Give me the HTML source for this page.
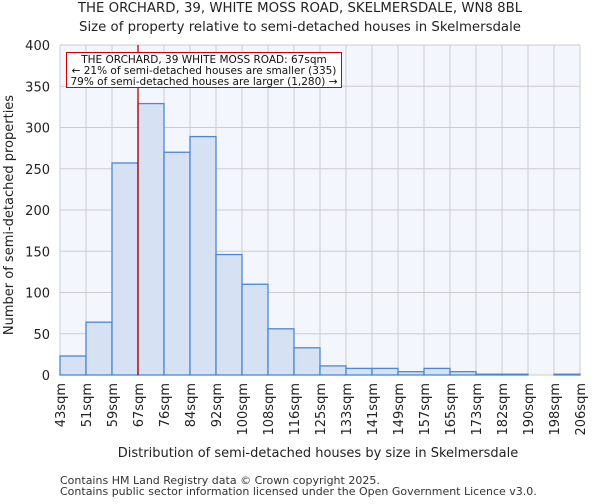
<!DOCTYPE html>
<html><head><meta charset="utf-8"><style>
body{margin:0;background:#fff;font-family:"DejaVu Sans","Liberation Sans",sans-serif}
</style></head><body>
<svg width="600" height="500" xmlns="http://www.w3.org/2000/svg" font-family="DejaVu Sans, Liberation Sans, sans-serif">
<text x="300" y="12" text-anchor="middle" font-size="13.3" fill="#222">THE ORCHARD, 39, WHITE MOSS ROAD, SKELMERSDALE, WN8 8BL</text>
<text x="300" y="31" text-anchor="middle" font-size="13.3" fill="#222">Size of property relative to semi-detached houses in Skelmersdale</text>
<rect x="60" y="45" width="520" height="330" fill="#f3f6fd"/>
<g id="grid"></g><g id="bars"></g><g id="axes"></g>
<text transform="translate(13,215) rotate(-90)" text-anchor="middle" font-size="13" fill="#222">Number of semi-detached properties</text>
<text x="318" y="457" text-anchor="middle" font-size="13" fill="#222">Distribution of semi-detached houses by size in Skelmersdale</text>
<text x="60" y="484" font-size="11" fill="#333">Contains HM Land Registry data © Crown copyright 2025.</text>
<text x="60" y="495" font-size="11" fill="#333">Contains public sector information licensed under the Open Government Licence v3.0.</text>
<g id="annot"></g>
</svg>
<script>
const categories=["43sqm","51sqm","59sqm","67sqm","76sqm","84sqm","92sqm","100sqm","108sqm","116sqm","125sqm","133sqm","141sqm","149sqm","157sqm","165sqm","173sqm","182sqm","190sqm","198sqm","206sqm"];
const counts=[23,64,257,329,270,289,146,110,56,33,11,8,8,4,8,4,1,1,0,1];
const yTicks=[0,50,100,150,200,250,300,350,400];
const markerBin=3;
const NS="http://www.w3.org/2000/svg";
const X0=60,X1=580,Y0=375,Y1=45,YMAX=400;
const bw=(X1-X0)/counts.length;
const xs=i=>X0+i*bw, ys=v=>Y0-v/YMAX*(Y0-Y1);
function mk(tag,attrs,parent){const e=document.createElementNS(NS,tag);for(const k in attrs)e.setAttribute(k,attrs[k]);document.getElementById(parent).appendChild(e);return e;}
yTicks.forEach(t=>{
 const l=mk('line',{x1:X0,x2:X1,y1:ys(t),y2:ys(t),stroke:'#ccc','stroke-width':1},'grid');
 
 
 const tx=mk('text',{x:X0-10,y:ys(t)+5,'text-anchor':'end','font-size':13,fill:'#222'},'axes');
 tx.textContent=t;
 
 
});
categories.forEach((c,i)=>{
 const l=mk('line',{x1:xs(i),x2:xs(i),y1:Y1,y2:Y0,stroke:'#ccc','stroke-width':1},'grid');
 
 
 const tx=mk('text',{transform:`translate(${xs(i)+5},${Y0+8}) rotate(-90)`,'text-anchor':'end','font-size':13,fill:'#222'},'axes');
 tx.textContent=c;
 
 
});
counts.forEach((v,i)=>{
 if(v<=0)return;
 const r=mk('rect',{x:xs(i),y:ys(v),width:bw,height:Y0-ys(v),fill:'#d6e1f4',stroke:'#4a88d4','stroke-width':1.3},'bars');
 
 
});
const ml=mk('line',{x1:xs(markerBin),x2:xs(markerBin),y1:Y1,y2:Y0,stroke:'#b00','stroke-width':1.3},'annot');


const box=mk('rect',{x:66.5,y:52.5,width:275,height:35,fill:'#fff',stroke:'#c00','stroke-width':1},'annot');


["THE ORCHARD, 39 WHITE MOSS ROAD: 67sqm","← 21% of semi-detached houses are smaller (335)","79% of semi-detached houses are larger (1,280) →"].forEach((s,i)=>{
 const t=mk('text',{x:204,y:63+i*11,'text-anchor':'middle','font-size':10.5,fill:'#111'},'annot');
 t.textContent=s;
 
 
});
</script>
</body></html>
